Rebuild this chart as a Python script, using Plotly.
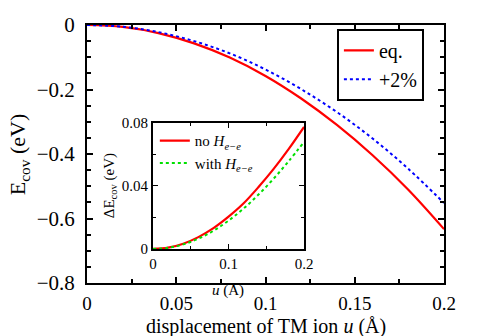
import plotly.graph_objects as go

u = [0, 0.02, 0.04, 0.06, 0.08, 0.10, 0.12, 0.14, 0.16, 0.18, 0.20]
e_eq = [0, -0.006, -0.025, -0.057, -0.101, -0.158, -0.228, -0.310, -0.404, -0.511, -0.633]
e_plus2 = [0, -0.0055, -0.022, -0.050, -0.088, -0.138, -0.199, -0.270, -0.352, -0.446, -0.552]
d_no = [0, 0.0008, 0.0033, 0.0075, 0.0132, 0.0205, 0.029, 0.0395, 0.051, 0.0637, 0.0775]
d_with = [0, 0.0007, 0.0029, 0.0065, 0.0115, 0.0180, 0.0257, 0.0347, 0.0448, 0.0560, 0.068]

FONT = "Liberation Serif"

fig = go.Figure()
fig.add_trace(go.Scatter(x=u, y=e_eq, mode="lines", name="eq.", line=dict(color="#ff0000", width=2.2, shape="spline"), legend="legend"))
fig.add_trace(go.Scatter(x=u, y=e_plus2, mode="lines", name="+2%", line=dict(color="#0000ff", width=2, dash="dot", shape="spline"), legend="legend"))
fig.add_trace(go.Scatter(x=u, y=d_no, mode="lines", name="no <i>H</i><sub><i>e−e</i></sub>", line=dict(color="#ff0000", width=2.2, shape="spline"), xaxis="x2", yaxis="y2", legend="legend2"))
fig.add_trace(go.Scatter(x=u, y=d_with, mode="lines", name="with <i>H</i><sub><i>e−e</i></sub>", line=dict(color="#00e000", width=2, dash="dot", shape="spline"), xaxis="x2", yaxis="y2", legend="legend2"))

ax_common = dict(showline=True, linecolor="black", linewidth=2, mirror="ticks", ticks="inside",
                 showgrid=False, zeroline=False, tickcolor="black", automargin=False)

fig.update_layout(
    template="none",
    width=480, height=336,
    margin=dict(l=87, r=36, t=25, b=53, autoexpand=False),
    paper_bgcolor="white", plot_bgcolor="white",
    font=dict(family=FONT, color="black", size=20),
    xaxis=dict(**ax_common, range=[0, 0.2], tickvals=[0, 0.05, 0.1, 0.15, 0.2],
               ticktext=["0", "0.05", "0.1", "0.15", "0.2"], ticklen=6, tickwidth=1.5,
               minor=dict(dtick=0.025, ticklen=4, ticks="inside", tickcolor="black", tickwidth=1.5),
               tickfont=dict(size=19, family=FONT), ticklabelstandoff=2),
    yaxis=dict(**ax_common, range=[-0.8, 0], tickvals=[-0.8, -0.6, -0.4, -0.2, 0],
               ticktext=["−0.8", "−0.6", "−0.4", "−0.2", "0"], ticklen=6, tickwidth=1.5,
               minor=dict(dtick=0.05, ticklen=4, ticks="inside", tickcolor="black", tickwidth=1.5),
               tickfont=dict(size=21, family=FONT), ticklabelstandoff=6),
    xaxis2=dict(**ax_common, domain=[0.185, 0.608], anchor="y2", range=[0, 0.2],
                tickvals=[0, 0.1, 0.2], ticktext=["0", "0.1", "0.2"], ticklen=5, tickwidth=1.2,
                minor=dict(dtick=0.05, ticklen=3, ticks="inside", tickcolor="black"),
                tickfont=dict(size=15, family=FONT)),
    yaxis2=dict(**ax_common, domain=[0.132, 0.620], anchor="x2", range=[0, 0.08],
                tickvals=[0, 0.04, 0.08], ticktext=["0", "0.04", "0.08"], ticklen=5, tickwidth=1.2,
                minor=dict(dtick=0.02, ticklen=3, ticks="inside", tickcolor="black"),
                tickfont=dict(size=15, family=FONT)),
    legend=dict(x=0.70, y=0.985, xanchor="left", yanchor="top", bgcolor="white",
                bordercolor="black", borderwidth=2, font=dict(size=20, family=FONT),
                itemwidth=30, tracegroupgap=0),
    legend2=dict(x=0.19, y=0.615, xanchor="left", yanchor="top", bgcolor="rgba(0,0,0,0)",
                 borderwidth=0, font=dict(size=15, family=FONT), itemwidth=30),
    showlegend=True,
    annotations=[
        dict(text="displacement of TM ion <i>u</i> (Å)", xref="paper", yref="paper",
             x=0.5, y=-0.17, xanchor="center", yanchor="middle", showarrow=False,
             font=dict(size=20, family=FONT)),
        dict(text="E<sub>cov</sub> (eV)", xref="paper", yref="paper",
             x=-0.19, y=0.5, xanchor="center", yanchor="middle", textangle=-90, showarrow=False,
             font=dict(size=22, family=FONT)),
        dict(text="<i>u</i> (Å)", xref="paper", yref="paper",
             x=0.396, y=-0.03, xanchor="center", yanchor="middle", showarrow=False,
             font=dict(size=15, family=FONT)),
        dict(text="ΔE<sub>cov</sub> (eV)", xref="paper", yref="paper",
             x=0.065, y=0.376, xanchor="center", yanchor="middle", textangle=-90, showarrow=False,
             font=dict(size=15, family=FONT)),
    ],
)

fig.write_html("out.html", config={"displayModeBar": False},
               post_script="document.body.style.margin='0';document.body.style.padding='0';")
